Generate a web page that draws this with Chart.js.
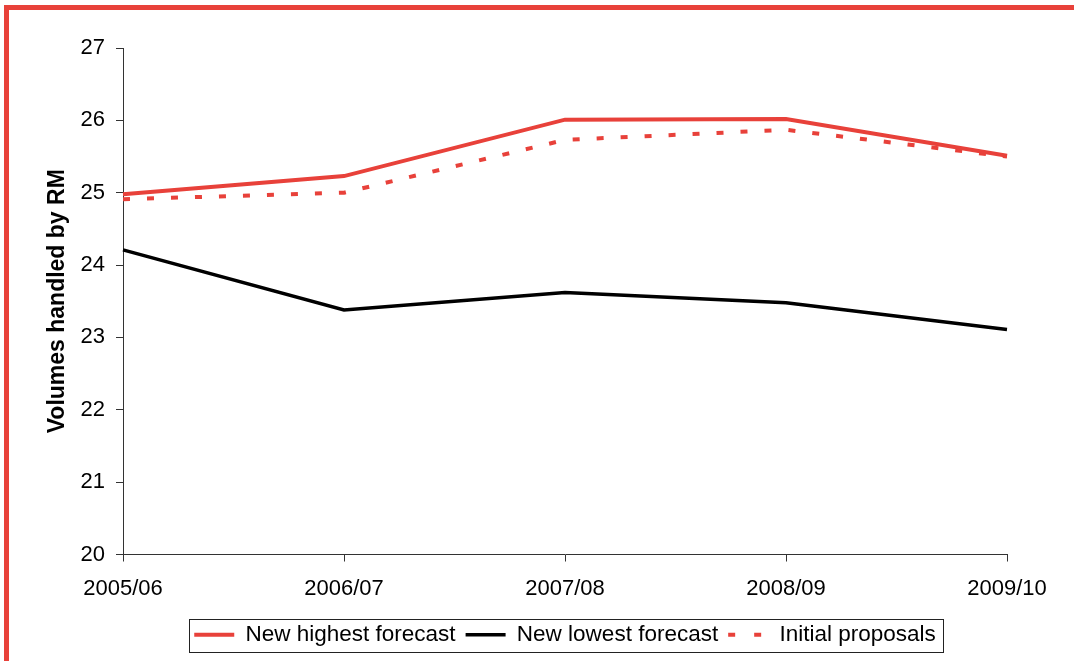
<!DOCTYPE html>
<html>
<head>
<meta charset="utf-8">
<script src="https://cdn.jsdelivr.net/npm/chart.js@4"></script>
<style>
  body { margin: 0; background: #fff; }
  #frame {
    position: absolute; left: 4px; top: 5px;
    width: 1065px; height: 651px;
    border-top: 5px solid #e8413a; border-left: 5px solid #e8413a;
  }
  #frame canvas { display: block; }
</style>
</head>
<body>
<div id="frame"><canvas id="myChart" width="1065" height="651"></canvas></div>
<script>
    // years on the x axis
    var years = ['2005/06', '2006/07', '2007/08', '2008/09', '2009/10'];

    // values
    var highest = [24.98, 25.23, 26.01, 26.02, 25.51];
    var lowest = [24.21, 23.38, 23.62, 23.48, 23.11];
    var initial = [24.91, 25.0, 25.73, 25.87, 25.5];

    var red = '#e8413a';
    var fontName = "'Liberation Sans', Arial, sans-serif";

    // frame round the legend items
    var legendFrame = {
        id: 'legendFrame',
        afterDraw: function(chart){
            var boxes = chart.legend.legendHitBoxes;
            if(!boxes || !boxes.length) return;
            var l = boxes[0].left, r = 0, t = boxes[0].top, b = 0;
            boxes.forEach(function(h){
                l = Math.min(l, h.left);
                r = Math.max(r, h.left + h.width);
                t = Math.min(t, h.top);
                b = Math.max(b, h.top + h.height);
            });
            var ctx = chart.ctx;
            ctx.save();
            ctx.strokeStyle = '#222';
            ctx.lineWidth = 1;
            ctx.strokeRect(Math.round(l - 5) + 0.5, Math.round(t - 5) + 0.5, Math.round(r - l + 12), Math.round(b - t + 10));
            ctx.restore();
        }
    };

    var ctx = document.getElementById('myChart').getContext('2d');
    var myChart = new Chart(ctx, {
        type: 'line',
        data: {
            labels: years,
            datasets: [{
                label: 'New highest forecast',
                data: highest,
                borderColor: red,
                backgroundColor: red,
                borderWidth: 4
            }, {
                label: 'New lowest forecast',
                data: lowest,
                borderColor: '#000',
                backgroundColor: '#000',
                borderWidth: 3.5
            }, {
                label: 'Initial proposals',
                data: initial,
                borderColor: red,
                backgroundColor: red,
                borderWidth: 4,
                borderDash: [7, 17]
            }]
        },
        options: {
            responsive: false,
            animation: false,
            elements: {
                point: { radius: 0, hoverRadius: 0 },
                line: { tension: 0, fill: false }
            },
            layout: { padding: { top: 38, right: 67, bottom: 5, left: 0 } },
            plugins: {
                tooltip: { enabled: false },
                legend: {
                    position: 'bottom',
                    fullSize: false,
                    labels: {
                        usePointStyle: true,
                        pointStyle: 'line',
                        pointStyleWidth: 40,
                        padding: 10,
                        color: '#000',
                        font: { family: fontName, size: 22.5 },
                        generateLabels: function(chart){
                            var items = Chart.defaults.plugins.legend.labels.generateLabels(chart);
                            items.forEach(function(item){
                                var ds = chart.data.datasets[item.datasetIndex];
                                item.lineWidth = ds.borderWidth;
                                item.strokeStyle = ds.borderColor;
                                item.lineDash = ds.borderDash ? [7, 19] : [];
                            });
                            return items;
                        }
                    }
                }
            },
            scales: {
                x: {
                    offset: false,
                    afterFit: function(scale){ scale.height = 59; },
                    grid: { drawOnChartArea: false, tickLength: 7, color: '#333', tickColor: '#333' },
                    border: { color: '#333', width: 1 },
                    ticks: {
                        color: '#000',
                        padding: 14,
                        maxRotation: 0,
                        font: { family: fontName, size: 22 }
                    }
                },
                y: {
                    min: 20,
                    max: 27,
                    afterFit: function(scale){ scale.width = 114; },
                    grid: { drawOnChartArea: false, tickLength: 7, color: '#333', tickColor: '#333' },
                    border: { color: '#333', width: 1 },
                    ticks: {
                        stepSize: 1,
                        color: '#000',
                        padding: 11,
                        font: { family: fontName, size: 22 }
                    },
                    title: {
                        display: true,
                        text: 'Volumes handled by RM',
                        color: '#000',
                        padding: { top: 35, bottom: 0 },
                        font: { family: fontName, size: 23, weight: 'bold' }
                    }
                }
            }
        },
        plugins: [legendFrame]
    });
</script>
</body>
</html>
